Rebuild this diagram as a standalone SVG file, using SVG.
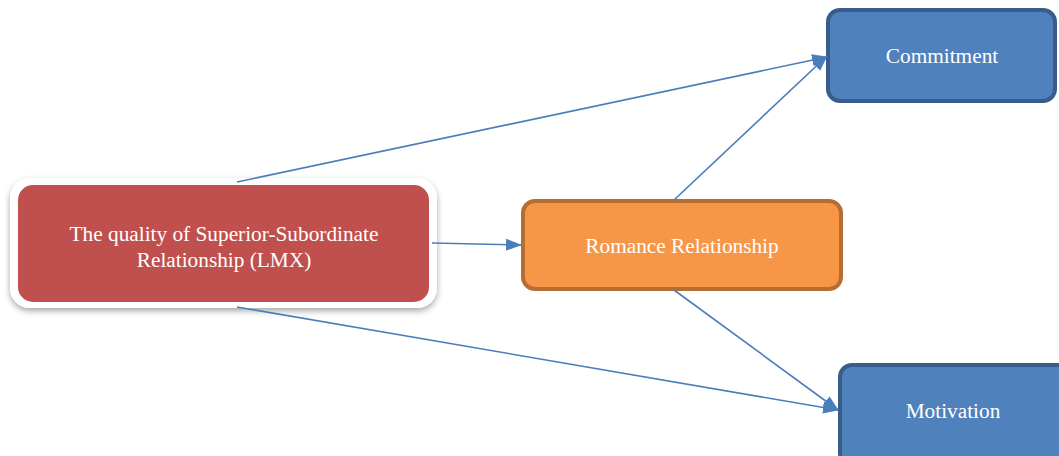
<svg xmlns="http://www.w3.org/2000/svg" width="1059" height="456" viewBox="0 0 1059 456">
<style>
.lbl{font-family:"Liberation Serif","Times New Roman",serif;font-size:21.3px;fill:#ffffff;text-anchor:middle}
.con{stroke:#4A7EBB;stroke-width:1.6;fill:none;marker-end:url(#arr)}
.blue{fill:#4F81BD;stroke:#385D8A;stroke-width:4}
</style>
<defs>
<marker id="arr" markerUnits="userSpaceOnUse" markerWidth="16" markerHeight="14" refX="15" refY="6" orient="auto">
<path d="M0,0 L16,6 L0,12 Z" fill="#4A7EBB"/>
</marker>
<filter id="sh" x="-10%" y="-20%" width="120%" height="150%">
<feDropShadow dx="0" dy="3" stdDeviation="3" flood-color="#000" flood-opacity="0.35"/>
</filter>
</defs>
<rect width="1059" height="456" fill="#ffffff"/>
<g id="lmx">
<rect x="10" y="178" width="427" height="130" rx="20" fill="#ffffff" filter="url(#sh)"/>
<rect x="18" y="185" width="411" height="117" rx="15" fill="#C0504D"/>
<text class="lbl" x="224" y="241">The quality of Superior-Subordinate</text>
<text class="lbl" x="224" y="267">Relationship (LMX)</text>
</g>
<g id="romance">
<rect x="523" y="201" width="318" height="88" rx="12" fill="#F79646" stroke="#B66D31" stroke-width="4"/>
<text class="lbl" x="682" y="253">Romance Relationship</text>
</g>
<g id="commitment">
<rect class="blue" x="828" y="10" width="227" height="91" rx="12"/>
<text class="lbl" x="942" y="63">Commitment</text>
</g>
<g id="motivation">
<rect class="blue" x="840" y="365" width="230" height="100" rx="12"/>
<text class="lbl" x="953" y="418">Motivation</text>
</g>
<g id="connectors">
<line class="con" x1="237" y1="182" x2="827" y2="57"/>
<line class="con" x1="237" y1="307" x2="838" y2="410"/>
<line class="con" x1="432" y1="243" x2="521" y2="245"/>
<line class="con" x1="674" y1="200" x2="827" y2="56"/>
<line class="con" x1="674" y1="290" x2="838" y2="410"/>
</g>
</svg>
